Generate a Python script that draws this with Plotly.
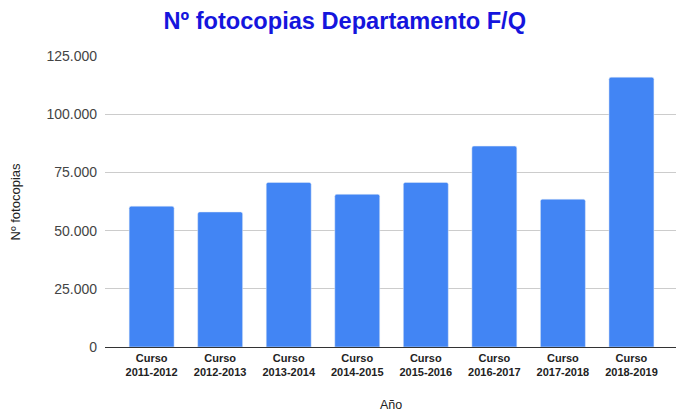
import plotly.graph_objects as go

cursos = ["2011-2012", "2012-2013", "2013-2014", "2014-2015",
          "2015-2016", "2016-2017", "2017-2018", "2018-2019"]
fotocopias = [60500, 58000, 70700, 65600, 70700, 86300, 63500, 115900]
tick_vals_y = [0, 25000, 50000, 75000, 100000, 125000]

labels = ["<b>Curso<br>" + c + "</b>" for c in cursos]

fig = go.Figure(go.Bar(
    x=labels, y=fotocopias,
    marker=dict(color="#4285F4", cornerradius=2),
    width=0.656,
))

fig.update_layout(
    width=676, height=412,
    margin=dict(l=105, r=0, t=56, b=65, autoexpand=False),
    paper_bgcolor="white", plot_bgcolor="white",
    separators=",.",
    showlegend=False,
    title=dict(text="<b>Nº fotocopias Departamento F/Q</b>", x=0.51, xanchor="center",
               y=0.95, yanchor="middle",
               font=dict(family="Liberation Sans, Arial", size=23.6, color="#1515dd")),
    font=dict(family="Liberation Sans, Arial"),
    xaxis=dict(range=[-0.68, 7.65], showgrid=False, ticks="",
               tickfont=dict(size=11, color="#222222"), showline=False,
               ticklabelstandoff=3),
    yaxis=dict(range=[0, 125000], tickvals=tick_vals_y, tickformat=",d",
               gridcolor="#cccccc", gridwidth=1, zeroline=True, zerolinecolor="#333333",
               zerolinewidth=1, tickfont=dict(size=14, color="#444444"), ticks="",
               ticklabelstandoff=7),
    annotations=[
        dict(text="Año", xref="paper", yref="paper", x=0.5, y=-0.199, yanchor="middle",
             xanchor="center", showarrow=False, font=dict(size=12.5, color="#222222")),
        dict(text="Nº fotocopias", xref="paper", yref="paper", x=-0.1576, xanchor="center",
             y=0.5, yanchor="middle", textangle=-90, showarrow=False,
             font=dict(size=13, color="#222222")),
    ],
)

fig.write_html("out.html", config={"displayModeBar": False},
               post_script="document.body.style.margin='0';")
